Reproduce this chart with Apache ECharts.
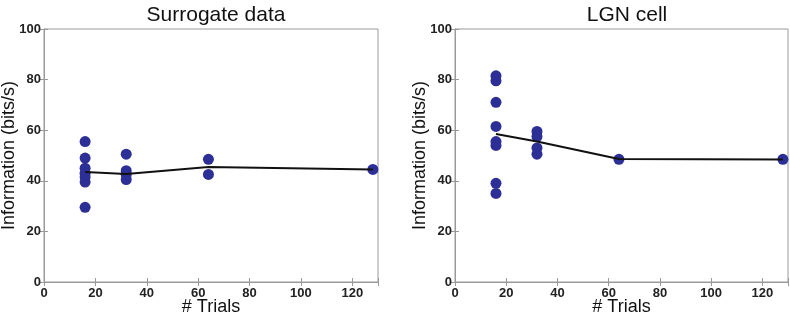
<!DOCTYPE html>
<html>
<head>
<meta charset="utf-8">
<script src="https://cdn.jsdelivr.net/npm/echarts@6/dist/echarts.min.js"></script>
<style>
  html, body { margin: 0; padding: 0; background: #fff; }
  #chart { width: 790px; height: 312px; }
</style>
</head>
<body>
<div id="chart"></div>
<script>
// data
var trials = [16, 32, 64, 128];

var surrogateDots16 = [55.5, 49, 45, 43, 41.5, 39.5, 29.5];
var surrogateDots32 = [50.5, 44, 42.5, 40.5];
var surrogateDots64 = [48.5, 42.5];
var surrogateDots128 = [44.5];
var surrogateLine = [43.5, 42.7, 45.5, 44.5];

var lgnDots16 = [81.5, 79.5, 71, 61.5, 55.5, 54, 39, 35];
var lgnDots32 = [59.5, 57.5, 53, 50.5];
var lgnDots64 = [48.5];
var lgnDots128 = [48.5];
var lgnLine = [58.5, 55.5, 48.6, 48.4];

var xTicks = [0, 20, 40, 60, 80, 100, 120];
var yTicks = [0, 20, 40, 60, 80, 100];

function pairs(x, ys) {
  var out = [];
  for (var i = 0; i < ys.length; i++) out.push([x, ys[i]]);
  return out;
}
function dotsOf(groups) {
  var all = [];
  for (var i = 0; i < trials.length; i++) all = all.concat(pairs(trials[i], groups[i]));
  return all;
}
function lineOf(vals) {
  var out = [];
  for (var i = 0; i < trials.length; i++) out.push([trials[i], vals[i]]);
  return out;
}

var font = "'Liberation Sans', Arial, sans-serif";
var frame = "#9a9a9a";
var dotColor = "#2c2f96";

var grids = [
  { left: 44, top: 29, width: 334, height: 253, show: true, borderColor: frame, borderWidth: 1,
    containLabel: false, outerBoundsMode: "none" },
  { left: 455, top: 29, width: 333, height: 253, show: true, borderColor: frame, borderWidth: 1,
    containLabel: false, outerBoundsMode: "none" }
];

var xAxes = [], yAxes = [];
for (var g = 0; g < 2; g++) {
  xAxes.push({
    type: "value", gridIndex: g, min: 0, max: 130, interval: 20,
    name: "# Trials", nameLocation: "middle", nameGap: 16, nameMoveOverlap: false,
    nameTextStyle: { fontFamily: font, fontSize: 18, color: "#111", verticalAlign: "top" },
    axisLine: { lineStyle: { color: frame } },
    axisTick: { inside: true, length: 4, lineStyle: { color: frame } },
    splitLine: { show: false },
    axisLabel: {
      margin: 5, fontFamily: font, fontSize: 13, fontWeight: "bold", color: "#222",
      formatter: function (v) { return xTicks.indexOf(v) >= 0 ? String(v) : ""; }
    }
  });
  xAxes.push({
    type: "value", gridIndex: g, position: "top", min: 0, max: 130, interval: 20,
    axisLine: { show: false }, axisLabel: { show: false }, splitLine: { show: false },
    axisTick: { inside: true, length: 4, lineStyle: { color: frame } }
  });
  yAxes.push({
    type: "value", gridIndex: g, min: 0, max: 100, interval: 20,
    name: "Information (bits/s)", nameLocation: "middle", nameGap: 26, nameMoveOverlap: false,
    nameTextStyle: { fontFamily: font, fontSize: 18, color: "#111" },
    axisLine: { show: true, lineStyle: { color: frame } },
    axisTick: { show: true, inside: true, length: 4, lineStyle: { color: frame } },
    splitLine: { show: false },
    axisLabel: {
      margin: 3, fontFamily: font, fontSize: 13, fontWeight: "bold", color: "#222",
      formatter: function (v) { return yTicks.indexOf(v) >= 0 ? String(v) : ""; }
    }
  });
  yAxes.push({
    type: "value", gridIndex: g, position: "right", min: 0, max: 100, interval: 20,
    axisLine: { show: false }, axisLabel: { show: false }, splitLine: { show: false },
    axisTick: { show: true, inside: true, length: 4, lineStyle: { color: frame } }
  });
}

var option = {
  animation: false,
  backgroundColor: "#fff",
  title: [
    { text: "Surrogate data", left: 211, top: 0, textAlign: "center",
      textStyle: { fontFamily: font, fontSize: 21, fontWeight: "normal", color: "#111" } },
    { text: "LGN cell", left: 622, top: 0, textAlign: "center",
      textStyle: { fontFamily: font, fontSize: 21, fontWeight: "normal", color: "#111" } }
  ],
  grid: grids,
  xAxis: xAxes,
  yAxis: yAxes,
  series: [
    { type: "line", xAxisIndex: 0, yAxisIndex: 0, data: lineOf(surrogateLine),
      symbol: "none", lineStyle: { color: "#111", width: 2 } },
    { type: "scatter", xAxisIndex: 0, yAxisIndex: 0,
      data: dotsOf([surrogateDots16, surrogateDots32, surrogateDots64, surrogateDots128]),
      symbolSize: 11, itemStyle: { color: dotColor, opacity: 1 } },
    { type: "line", xAxisIndex: 2, yAxisIndex: 2, data: lineOf(lgnLine),
      symbol: "none", lineStyle: { color: "#111", width: 2 } },
    { type: "scatter", xAxisIndex: 2, yAxisIndex: 2,
      data: dotsOf([lgnDots16, lgnDots32, lgnDots64, lgnDots128]),
      symbolSize: 11, itemStyle: { color: dotColor, opacity: 1 } }
  ]
};

var myChart = echarts.init(document.getElementById("chart"), null, { renderer: "canvas" });
myChart.setOption(option);
</script>
</body>
</html>
